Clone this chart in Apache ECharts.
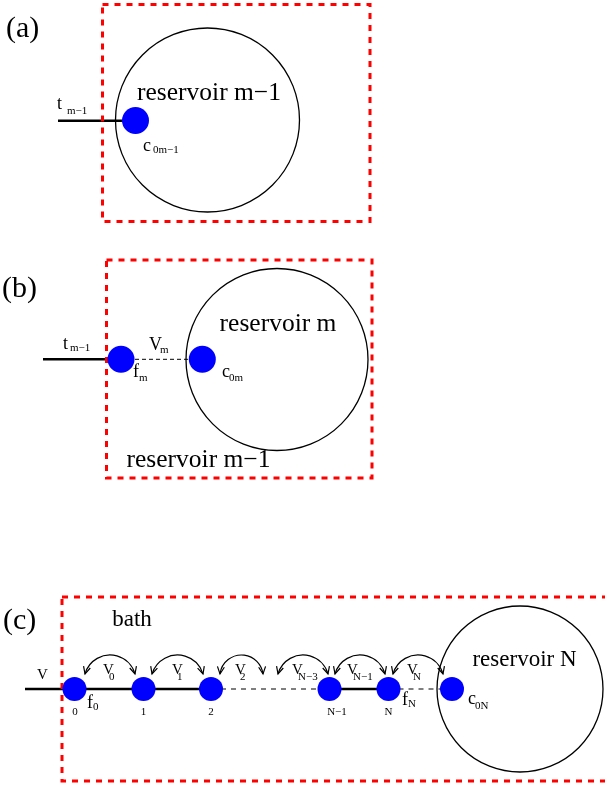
<!DOCTYPE html>
<html><head><meta charset="utf-8">
<script src="https://cdn.jsdelivr.net/npm/echarts@6/dist/echarts.min.js"></script>
<style>html,body{margin:0;padding:0;background:#fff}#c{width:605px;height:787px}</style>
</head><body><div id="c"></div>
<script>
// ---- diagram data (coordinates in the diagram's own units) ----
// dashed frames: [left, top, right, bottom]
const frames = [[102.5, 4.5, 370, 221.5], [106.5, 260, 372, 478], [62, 597, 650, 781]];
// reservoirs: [cx, cy, radius]
const reservoirs = [[207.5, 120, 92], [277, 359.5, 91], [520, 689, 83]];
// large sites of panels (a),(b)
const sitesAB = [[135.5, 120.5], [121, 359.3], [202.3, 359.3]];
// chain sites of panel (c)
const chainSites = [[74.5, 689], [143.5, 689], [211, 689], [329.5, 689], [388.5, 689], [452, 689]];
// bonds: [x1, x2, y]
const solidBonds = [[58, 123, 120.7], [43, 121, 359.3], [25, 211, 689], [329.5, 388.5, 689]];
const thinDashedBonds = [[121, 202.3, 359.3]];
const greyDashedBonds = [[211, 329.5, 689], [388.5, 452, 689]];
// hopping arcs: [x1, x2]
const couplingSpans = [[85, 135], [152, 203], [220, 263], [278, 328], [335, 385], [393, 443]];
const arcEndY = 674, arcPeakY = 655;
// texts: [x, y, text]
const panelTags = [[6, 29, '(a)'], [2, 289, '(b)'], [3, 621, '(c)']];
const reservoirNamesLarge = [[209, 93.5, 'reservoir m\u22121'], [278, 324.5, 'reservoir m'], [198.5, 460.5, 'reservoir m\u22121']];
const reservoirNamesC = [[524.5, 660, 'reservoir N'], [132, 620, 'bath']];
const symbolMains = [[57, 104.6, 't'], [143, 146, 'c'], [63, 344.6, 't'], [149, 345.4, 'V'], [133, 372.6, 'f'], [222, 372.6, 'c'], [87, 703, 'f'], [402, 700, 'f'], [468, 699.6, 'c']];
const symbolSubs = [[67, 111, 'm\u22121'], [153, 150, '0m\u22121'], [70, 347.7, 'm\u22121'], [160, 350, 'm'], [139, 377.7, 'm'], [229, 378, '0m'], [93, 706.7, '0'], [408, 703.7, 'N'], [475, 706, '0N']];
const couplingMains = [[37, 674.8, 'V'], [103, 670.5, 'V'], [172, 670.5, 'V'], [235, 670.5, 'V'], [292, 670.5, 'V'], [347, 670.5, 'V'], [407, 670.5, 'V']];
const couplingSubs = [[109, 676.7, '0'], [177, 676.7, '1'], [240, 676.7, '2'], [298, 676.7, 'N\u22123'], [353, 676.7, 'N\u22121'], [413, 676.7, 'N']];
const siteIndexLabels = [[75, 712, '0'], [143.5, 712, '1'], [211, 712, '2'], [337, 712, 'N\u22121'], [388.5, 712, 'N']];

// ---- styles ----
const SERIF = '"Liberation Serif", "DejaVu Serif", serif';
const BLUE = '#0000ff';

function textSeries(items, size, align, z) {
  return {
    type: 'custom', coordinateSystem: 'cartesian2d', z: z || 10, silent: true,
    data: items.map(d => [d[0], d[1]]),
    renderItem: function (params, api) {
      const p = api.coord([api.value(0), api.value(1)]);
      return {
        type: 'text', x: p[0], y: p[1],
        style: { text: items[params.dataIndex][2], fontSize: size, fontFamily: SERIF, fill: '#000', align: align, verticalAlign: 'middle' }
      };
    }
  };
}
function bondSeries(items, color, width, dash, z) {
  return {
    type: 'custom', coordinateSystem: 'cartesian2d', z: z, silent: true,
    data: items,
    renderItem: function (params, api) {
      const a = api.coord([api.value(0), api.value(2)]);
      const b = api.coord([api.value(1), api.value(2)]);
      return { type: 'line', shape: { x1: a[0], y1: a[1], x2: b[0], y2: b[1] },
        style: { stroke: color, lineWidth: width, lineDash: dash } };
    }
  };
}

const chart = echarts.init(document.getElementById('c'), null, { renderer: 'canvas' });
chart.setOption({
  animation: false,
  backgroundColor: '#fff',
  grid: { left: 0, right: 0, top: 0, bottom: 0 },
  xAxis: { type: 'value', min: 0, max: 605, show: false },
  yAxis: { type: 'value', min: 0, max: 787, inverse: true, show: false },
  series: [
    bondSeries(solidBonds, '#000', 2.5, null, 2),
    bondSeries(thinDashedBonds, '#000', 1, [4, 3], 2),
    bondSeries(greyDashedBonds, '#555', 1.5, [5, 5], 2),
    {
      type: 'custom', coordinateSystem: 'cartesian2d', z: 3, silent: true,
      data: frames,
      renderItem: function (params, api) {
        const a = api.coord([api.value(0), api.value(1)]);
        const b = api.coord([api.value(2), api.value(3)]);
        return { type: 'rect', shape: { x: a[0], y: a[1], width: b[0] - a[0], height: b[1] - a[1] },
          style: { fill: 'none', stroke: '#ff0000', lineWidth: 3, lineDash: [6, 6] } };
      }
    },
    {
      type: 'custom', coordinateSystem: 'cartesian2d', z: 4, silent: true,
      data: reservoirs,
      renderItem: function (params, api) {
        const c = api.coord([api.value(0), api.value(1)]);
        const r = api.size([api.value(2), api.value(2)])[0];
        return { type: 'circle', shape: { cx: c[0], cy: c[1], r: r },
          style: { fill: 'none', stroke: '#000', lineWidth: 1.3 } };
      }
    },
    {
      type: 'custom', coordinateSystem: 'cartesian2d', z: 4, silent: true,
      data: couplingSpans,
      renderItem: function (params, api) {
        const p1 = api.coord([api.value(0), arcEndY]);
        const p2 = api.coord([api.value(1), arcEndY]);
        const py = api.coord([0, arcPeakY])[1];
        const h = (p2[0] - p1[0]) / 2, s = p1[1] - py;
        const r = (h * h + s * s) / (2 * s);
        const cx = (p1[0] + p2[0]) / 2, cy = py + r;
        const t1 = Math.atan2(p1[1] - cy, p1[0] - cx);
        const t2 = Math.atan2(p2[1] - cy, p2[0] - cx);
        const L = 8, ang = 0.45;
        function head(tip, dx, dy) {
          const pts = [];
          [ang, -ang].forEach(function (a) {
            const rx = dx * Math.cos(a) - dy * Math.sin(a);
            const ry = dx * Math.sin(a) + dy * Math.cos(a);
            pts.push([tip[0] - L * rx, tip[1] - L * ry]);
          });
          return { type: 'polyline', shape: { points: [pts[0], tip, pts[1]] },
            style: { fill: 'none', stroke: '#000', lineWidth: 1.2 } };
        }
        return { type: 'group', children: [
          { type: 'arc', shape: { cx: cx, cy: cy, r: r, startAngle: t1, endAngle: t2, clockwise: true },
            style: { fill: 'none', stroke: '#000', lineWidth: 1.2 } },
          head(p2, -Math.sin(t2), Math.cos(t2)),
          head(p1, Math.sin(t1), -Math.cos(t1))
        ] };
      }
    },
    {
      type: 'scatter', z: 5, silent: true, symbol: 'circle', symbolSize: 27,
      itemStyle: { color: BLUE, opacity: 1 }, data: sitesAB
    },
    {
      type: 'scatter', z: 5, silent: true, symbol: 'circle', symbolSize: 24,
      itemStyle: { color: BLUE, opacity: 1 }, data: chainSites
    },
    textSeries(panelTags, 30, 'left'),
    textSeries(reservoirNamesLarge, 25.5, 'center'),
    textSeries(reservoirNamesC, 23, 'center'),
    textSeries(symbolMains, 18, 'left'),
    textSeries(symbolSubs, 11, 'left'),
    textSeries(couplingMains, 15, 'left'),
    textSeries(couplingSubs, 11, 'left'),
    textSeries(siteIndexLabels, 11, 'center')
  ]
});
</script></body></html>
